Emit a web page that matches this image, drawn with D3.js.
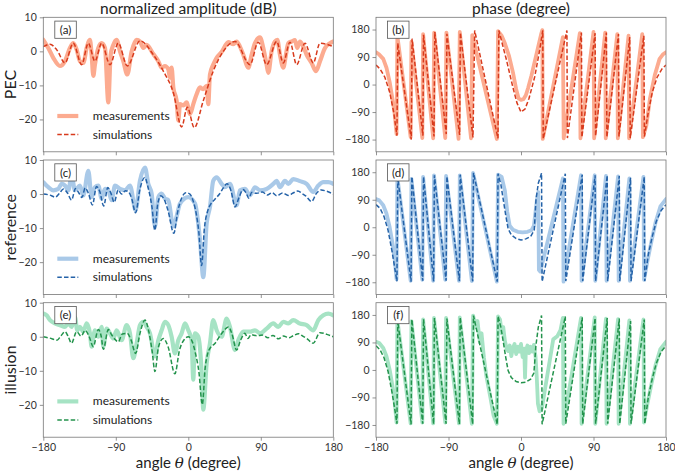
<!DOCTYPE html>
<html><head><meta charset="utf-8">
<script src="https://cdn.jsdelivr.net/npm/d3@7"></script>
<style>body{margin:0;background:#fff} text{font-family:Lato,"Open Sans",sans-serif}</style>
</head><body><svg id="c" width="675" height="472"></svg>
<script>
const angleTicks = [-180, -90, 0, 90, 180];
const ampTicks = [10, 0, -10, -20];
const phaseTicks = [180, 90, 0, -90, -180];
const colTitles = ["normalized amplitude (dB)", "phase (degree)"];
const rowLabels = ["PEC", "reference", "illusion"];
const panelLabels = [["(a)", "(b)"], ["(c)", "(d)"], ["(e)", "(f)"]];
const legendLabels = ["measurements", "simulations"];
const xLabelParts = ["angle ", "\u03b8", " (degree)"];

// ---- amplitude (dB) ----
const pecAmpSim = [[-180,1.4],[-171.7,2.1],[-163.4,0.5],[-153.1,-3.4],[-142.8,2.4],[-132.4,-3.9],[-124.1,2.4],[-115.9,-2.9],[-107.6,2.4],[-97.2,-3.9],[-86.9,2.4],[-75.7,-4.3],[-60,3.1],[-43.4,-1.0],[-31,-5.8],[-18.6,-12.1],[-8.3,-22.2],[-1.2,-16.4],[7.4,-22.4],[18.6,-14.5],[31,-5.8],[43.4,0],[57.9,2.9],[76.6,-3.9],[86.9,2.7],[97.2,-3.9],[109.7,2.9],[117.9,-3.4],[126.2,2.7],[134.5,-3.9],[144.8,2.4],[155.1,-3.4],[163.5,2.4],[180,1.4]];
const pecAmpMeas = [[-180,3.4],[-173.8,1.0],[-167.6,-1.9],[-159.3,-4.3],[-153.1,-2.9],[-146.9,1.0],[-142.8,2.4],[-138.6,0.5],[-134.5,-2.9],[-130.3,-3.4],[-126.2,1.0],[-122.1,3.4],[-120,-1.0],[-117.9,-7.2],[-115.9,-3.9],[-111.7,1.0],[-107.6,2.4],[-103.4,1.0],[-99.3,-15.0],[-96.4,-1.0],[-93.1,1.9],[-89,3.4],[-84.8,0],[-80.7,-2.9],[-75.7,-6.8],[-70.3,0],[-64.1,3.4],[-60,2.9],[-55.9,1.0],[-51.7,1.9],[-43.4,-0.8],[-37.2,-2.9],[-33.1,-4.8],[-29,-4.3],[-24.8,-5.3],[-22.8,-7.7],[-20.7,-4.8],[-18.6,-10.6],[-14.5,-14.5],[-12.4,-20.3],[-10.3,-15.5],[-6.2,-15.9],[-2.1,-15.0],[2.1,-18.4],[6.2,-15.5],[10.3,-12.6],[14.5,-10.6],[18.6,-11.1],[22.8,-10.1],[24.8,-15.5],[26.9,-6.8],[31,-3.9],[35.2,-1.9],[41.4,-0.2],[49.7,2.7],[55.9,2.1],[60,2.9],[64.1,1.4],[68.3,-1.0],[74.5,-4.8],[78.6,-1.0],[82.8,2.4],[89,4.1],[93.1,1.0],[97.2,-3.9],[99.3,-6.3],[103.4,0],[107.6,2.9],[110.5,3.4],[113.8,-1.0],[117.9,-4.8],[121.2,-1.0],[124.1,2.4],[128.3,2.9],[132.4,3.3],[135.3,1.0],[138.6,2.9],[142.8,1.4],[146.9,-1.0],[153.1,-3.4],[158.5,-5.8],[163.5,-2.9],[169.7,1.0],[175.9,2.4],[180,2.9]];
const refAmpSim = [[-180,0],[-172,-0.3],[-165,-0.9],[-160,0.2],[-155,1.5],[-150,0.3],[-145,-1.8],[-140,1.6],[-136,0.4],[-132,-1.0],[-128,1.8],[-124,0.2],[-119,-3.2],[-114,2.2],[-110,0.8],[-105,-3.5],[-100,1.9],[-96,0.2],[-92,-2.4],[-87,1.2],[-83,0.0],[-78,1.0],[-74,0.6],[-70,-1.5],[-65.5,-5.5],[-60,1.5],[-54,4.9],[-50,2.0],[-45,-4],[-41.5,-10.7],[-38,-3],[-34,-0.5],[-30,-1.5],[-25,-5],[-18,-11.5],[-13,-5],[-8,-1],[-3,0.4],[2,0],[6,-2],[10,-6],[13,-11],[16.5,-21],[20,-10],[24,-5],[27,-3.3],[33,-1.5],[39,0.1],[44,2],[48,3],[53,1],[58,-3.8],[63,-1],[68,1.3],[72,0.2],[75,-1.2],[79,0.5],[85,0.2],[92,0.6],[98,-0.3],[104,0.4],[110,-0.5],[117,0.3],[124,-0.4],[130,0.3],[136,0.9],[141,0.2],[146,-0.6],[153,-2.2],[159,0.2],[165,1.2],[172,0.8],[180,0]];
const refAmpMeas = [[-180,3.5],[-173.8,2.0],[-167.6,1.1],[-161.4,1.5],[-157.2,3.0],[-153.1,2.5],[-149,1.1],[-144.8,5.4],[-140.7,1.1],[-134.5,2.5],[-130.3,-0.4],[-124.1,6.8],[-120,-0.9],[-115.9,2.0],[-111.7,2.5],[-107.6,-1.3],[-103.4,1.5],[-99.3,1.1],[-95.2,-1.8],[-91,2.5],[-84.8,1.5],[-78.6,1.1],[-72.4,2.5],[-65.4,-4.7],[-60,3.9],[-53.8,7.8],[-49.7,3.0],[-45.5,0.1],[-41.4,-9.5],[-37.2,-0.9],[-33.1,0.1],[-29,-1.3],[-24.8,-1.8],[-18.6,-9.5],[-14.5,-6.6],[-10.3,-2.8],[0,-0.9],[8.3,-2.8],[14.5,-13.4],[18.6,-24.4],[22.8,-8.6],[26.9,-3.8],[31,3.9],[35.2,4.9],[41.4,3.0],[45.5,2.0],[51.7,3.0],[60,-3.3],[64.1,1.1],[70.3,1.5],[76.6,-0.4],[82.8,2.0],[89,1.1],[97.2,1.5],[105.5,3.0],[109.7,3.9],[113.8,2.0],[120,3.9],[124.1,3.0],[130.3,4.4],[138.6,3.8],[146.9,3.0],[155.1,0.6],[161.4,2.5],[167.6,3.5],[173.8,3.5],[180,3.0]];
const illAmpSim = [[-180,0],[-172,-0.4],[-163,-1.0],[-158,0.3],[-153,1.5],[-149,0.0],[-145,-1.9],[-138.6,1.5],[-133,0.2],[-128,1.9],[-123,0.0],[-118,-2.9],[-111.7,2.1],[-108,0.0],[-105.5,-3.7],[-99.3,2.1],[-95,0.5],[-90,-1.0],[-87,-1.5],[-82,0.8],[-76,1.0],[-71,-1.0],[-65.4,-4.9],[-60,1.0],[-53.8,4.9],[-49,1.5],[-45,-4],[-41.4,-10.2],[-37,-3],[-31,-0.5],[-25,-3],[-16.6,-10.9],[-11,-4],[-5,-0.8],[0,0],[5,-1.5],[9,-5],[13,-10],[17.4,-19.9],[21,-9],[24,-5],[26.9,-3.4],[33,-2],[40,0.5],[45,2],[49.7,2.9],[54,1],[60,-3.9],[65,-1],[70.3,1.0],[74,-0.5],[78,0.6],[85,0.3],[92,0.5],[99,-0.3],[105,0.4],[112,-0.6],[118,0.2],[125,-0.3],[131,0.4],[137,0.9],[142,0.2],[147,-0.5],[155,-1.9],[163.5,1.2],[172,0.7],[180,0]];
const illAmpMeas = [[-180,6.8],[-175.9,6.3],[-171.7,4.9],[-165.5,3.9],[-159.3,3.4],[-153.1,2.9],[-149,3.9],[-144.8,2.9],[-140.7,5.8],[-137.8,1.9],[-134.5,2.9],[-130.3,1.5],[-126.2,3.9],[-122.1,1.0],[-120,-2.9],[-115.9,1.9],[-111.7,0],[-107.6,2.9],[-105.5,-2.9],[-101.4,2.4],[-97.2,1.0],[-93.1,-0.5],[-89,1.9],[-82.8,-1.0],[-76.6,3.4],[-72.4,1.0],[-68.3,-6.3],[-64.1,-1.9],[-60,3.4],[-55.9,4.4],[-51.7,2.9],[-47.6,1.0],[-41.4,-5.8],[-37.2,-1.0],[-33.1,1.9],[-29,4.4],[-24.8,3.4],[-20.7,0],[-16.6,-4.9],[-12.4,-1.0],[-8.3,1.0],[-4.1,3.9],[0,1.9],[4.1,-1.0],[6.2,-12.6],[8.3,1.0],[12.4,0],[16.6,-10.7],[18.6,-21.4],[22.8,-7.8],[26.9,-1.9],[31,4.9],[35.2,1.9],[41.4,0],[47.6,5.3],[51.7,2.9],[57.9,-3.9],[62.1,-1.0],[68.3,1.5],[76.6,1.5],[82.8,1.9],[89,1.0],[97.2,2.4],[105.5,3.9],[111.7,2.9],[117.9,4.4],[124.1,3.9],[130.3,4.9],[138.6,3.9],[146.9,3.4],[155.1,1.9],[161.4,4.9],[167.6,6.3],[173.8,6.8],[180,6.3]];

// ---- phase (degree) ----
const pecPhaseSim = [[-180,64],[-175,51],[-169,24],[-163,-25],[-158,-91],[-154,-167],[-153,135],[-136.2,-180],[-135.2,150],[-121.8,-167],[-121,163],[-108,-170],[-107,172],[-92.8,-162],[-92,166],[-76.2,-165],[-75.3,170],[-59.6,-173],[-57.5,177],[-28.6,-176],[-27.5,177],[-18,80],[-10,-10],[-5,-60],[0,-90],[5,-80],[10,-45],[17,25],[23,110],[27,177],[27.6,-177],[57,177],[57.6,-175],[75,170],[75.6,-172],[92,168],[92.6,-168],[106,170],[106.6,-172],[121,165],[121.6,-170],[135,155],[135.6,-175],[152.5,160],[153.2,-170],[158,-91],[163,-25],[169,24],[175,51],[180,64]];
const pecPhaseMeas = [[-180,106],[-176,98],[-171,84],[-167,55],[-163,8],[-160,-40],[-157,-91],[-154.5,-162],[-153.5,160],[-137,-172],[-136,140],[-122.5,-175],[-121.5,165],[-109,-176],[-107.8,170],[-94,-175],[-92.6,170],[-77.5,-178],[-76,172],[-62,-176],[-60.5,162],[-30,-178],[-28.5,175],[-24,160],[-20,135],[-15,95],[-10,40],[-6,-15],[-3,-45],[0,-50],[3,-48],[6,-35],[9,-10],[13,30],[17,75],[21,120],[25,165],[26.5,178],[27,-178],[52,155],[53,-176],[73,168],[73.8,-176],[90,172],[90.8,-176],[104.5,170],[105.2,-176],[119.5,165],[120.2,-176],[133.5,160],[134.2,-176],[150.5,165],[151.3,-172],[155.6,-135],[160,-47],[166,30],[172,84],[176,98],[180,106]];
const refPhaseSim = [[-180,74],[-175,62],[-170,35],[-165,-10],[-160,-80],[-156,-145],[-154,-177],[-153,162],[-136.5,-178],[-135.5,165],[-122,-175],[-121,165],[-108.5,-177],[-107.5,170],[-93,-175],[-92,166],[-76.5,-176],[-75.5,172],[-60,-177],[-59,178],[-29.5,-178],[-28.5,175],[-25,140],[-22,90],[-19,40],[-16,-5],[-12,-25],[-6,-37],[0,-42],[6,-38],[12,-30],[16.5,-9],[18.6,90],[21.5,144],[25.5,177],[26.2,-178],[55,175],[55.6,-176],[76,172],[76.6,-176],[92,170],[92.6,-176],[107,170],[107.6,-176],[122,168],[122.6,-176],[136,162],[136.6,-176],[153,165],[153.6,-176],[158,-90],[163,-30],[168,20],[174,55],[180,74]];
const refPhaseMeas = [[-180,92],[-176,88],[-171,72],[-167,45],[-163,0],[-160,-45],[-157,-100],[-154.5,-170],[-153.5,165],[-137,-175],[-136,158],[-122.5,-172],[-121.5,165],[-109,-175],[-108,170],[-94,-172],[-93,168],[-77,-175],[-76,170],[-61,-176],[-59.5,178],[-30,-178],[-28.5,172],[-24,165],[-20,120],[-17,50],[-14,5],[-10,-8],[-4,-15],[2,-17],[8,-15],[13,-10],[16,5],[18,50],[20,95],[21.5,115],[22.2,-140],[24,-145],[52,160],[52.8,-178],[74.5,170],[75.2,-175],[91.5,170],[92.2,-175],[105.5,168],[106.2,-175],[120.5,166],[121.2,-175],[134.5,160],[135.2,-175],[152,165],[152.7,-172],[157,-110],[162,-45],[167,15],[173,68],[180,92]];
const illPhaseSim = [[-180,79],[-175,66],[-170,40],[-165,-5],[-160,-75],[-156,-140],[-154,-176],[-153,160],[-136.5,-178],[-135.5,165],[-122,-176],[-121,166],[-108.5,-177],[-107.5,170],[-93,-176],[-92,168],[-76.5,-177],[-75.5,172],[-60,-177],[-59,178],[-29.5,-178],[-28.5,176],[-25,140],[-22,92],[-19,42],[-16,-2],[-12,-25],[-6,-38],[0,-42],[6,-40],[12,-30],[16,-10],[18.5,80],[21.5,140],[25.5,178],[26.2,-178],[55,175],[55.6,-176],[76,172],[76.6,-176],[92,170],[92.6,-176],[107,170],[107.6,-176],[122,168],[122.6,-176],[136,160],[136.6,-176],[153,165],[153.6,-176],[158,-90],[163,-28],[168,22],[174,60],[180,79]];
const illPhaseMeas = [[-180,92],[-176,88],[-171,72],[-167,45],[-163,0],[-160,-45],[-157,-100],[-154.5,-172],[-153.5,165],[-137,-175],[-136,160],[-122.5,-172],[-121.5,165],[-109,-175],[-108,170],[-94,-172],[-93,170],[-77,-175],[-76,172],[-61,-176],[-59.5,178],[-56,140],[-54,160],[-51,90],[-49,120],[-46,40],[-43,-20],[-38,-90],[-34,-150],[-30,-176],[-28.5,175],[-26,165],[-24,120],[-22,140],[-20,95],[-18,72],[-16,62],[-14,80],[-12,45],[-10,72],[-8,85],[-6,52],[-4,76],[-2,60],[0,85],[2,42],[4,70],[5,-25],[6,62],[8,80],[10,55],[12,76],[14,60],[16,82],[18,45],[19.5,-20],[21,-110],[23,-135],[26,-125],[30,-60],[35,20],[40,100],[45,110],[49,130],[52,170],[52.8,-176],[74.5,170],[75.2,-176],[91.5,172],[92.2,-176],[105.5,168],[106.2,-176],[120.5,166],[121.2,-176],[134.5,162],[135.2,-176],[152,165],[152.7,-172],[157,-110],[162,-45],[167,15],[173,68],[180,92]];

const ampSeries = [[pecAmpMeas, pecAmpSim], [refAmpMeas, refAmpSim], [illAmpMeas, illAmpSim]];
const phaseSeries = [[pecPhaseMeas, pecPhaseSim], [refPhaseMeas, refPhaseSim], [illPhaseMeas, illPhaseSim]];
const measColors = ["#fcab90", "#a9c9e8", "#a6e3c4"];
const simColors = ["#d83a1c", "#2462a8", "#23934c"];

// ---- layout ----
const svg = d3.select("#c");
const colX = [43.3, 376], panelW = 290;
const rowY = [17.3, 160, 302.7], panelH = 134.5;
const fmt = d => (d < 0 ? "\u2212" + Math.abs(d) : String(d));
const frameColor = "#777";

rowLabels.forEach((lab, r) => {
  for (let c = 0; c < 2; c++) {
    const x0 = colX[c], y0 = rowY[r];
    const x = d3.scaleLinear().domain([-180, 180]).range([x0, x0 + panelW]);
    const y = d3.scaleLinear().domain(c === 0 ? [-29.5, 10] : [-220, 220]).range([y0 + panelH, y0]);
    const g = svg.append("g");
    const cid = `clip${r}${c}`;
    svg.append("clipPath").attr("id", cid).append("rect")
      .attr("x", x0).attr("y", y0).attr("width", panelW).attr("height", panelH);
    const data = c === 0 ? ampSeries[r] : phaseSeries[r];
    const curve = c === 0 ? d3.curveMonotoneX : d3.curveLinear;
    const line = d3.line().x(d => x(d[0])).y(d => y(d[1])).curve(curve);
    const lg = g.append("g").attr("clip-path", `url(#${cid})`);
    lg.append("path").datum(data[0]).attr("d", line)
      .attr("fill", "none").attr("stroke", measColors[r]).attr("stroke-width", c === 0 ? 4.2 : 3.8)
      .attr("stroke-linejoin", "round").attr("stroke-linecap", "round");
    lg.append("path").datum(data[1]).attr("d", line)
      .attr("fill", "none").attr("stroke", simColors[r]).attr("stroke-width", 1.5)
      .attr("stroke-dasharray", "4.5,2.2");

    // axes
    const xa = g.append("g").attr("transform", `translate(0,${y0 + panelH})`)
      .call(d3.axisBottom(x).tickValues(angleTicks).tickSizeInner(3.5).tickSizeOuter(0).tickPadding(2.5)
        .tickFormat(r === 2 ? fmt : () => ""));
    const ya = g.append("g").attr("transform", `translate(${x0},0)`)
      .call(d3.axisLeft(y).tickValues(c === 0 ? ampTicks : phaseTicks).tickSizeInner(3.5).tickSizeOuter(0).tickPadding(3)
        .tickFormat(fmt));
    [xa, ya].forEach(a => {
      a.select(".domain").remove();
      a.selectAll("line").attr("stroke", frameColor).attr("stroke-width", 0.8);
      a.selectAll("text").attr("fill", "#333").style("font-size", "10.5px");
    });
    g.append("rect").attr("x", x0).attr("y", y0).attr("width", panelW).attr("height", panelH)
      .attr("fill", "none").attr("stroke", frameColor).attr("stroke-width", 0.8);

    // panel label box
    g.append("rect").attr("x", x0 + 11.5).attr("y", y0 + 3.8).attr("width", 21.5).attr("height", 17.2)
      .attr("fill", "#fff").attr("stroke", "#555").attr("stroke-width", 0.8);
    g.append("text").attr("x", x0 + 22.25).attr("y", y0 + 16.5).attr("text-anchor", "middle")
      .style("font-size", "11.5px").attr("fill", "#222").text(panelLabels[r][c]);

    // legend
    if (c === 0) {
      legendLabels.forEach((t, i) => {
        const ly = y0 + 98.7 + i * 18.6;
        g.append("line").attr("x1", x0 + 14).attr("x2", x0 + 35).attr("y1", ly).attr("y2", ly)
          .attr("stroke", i === 0 ? measColors[r] : simColors[r])
          .attr("stroke-width", i === 0 ? 4.2 : 1.5)
          .attr("stroke-dasharray", i === 0 ? null : "4.5,2.2");
        g.append("text").attr("x", x0 + 49.5).attr("y", ly + 4).style("font-size", "12px")
          .attr("fill", "#222").text(t);
      });
    }
  }
  svg.append("text").attr("transform", `translate(16,${rowY[r] + panelH / 2}) rotate(-90)`)
    .attr("text-anchor", "middle").style("font-size", "16px").attr("fill", "#222").text(lab);
});

colTitles.forEach((t, c) => {
  svg.append("text").attr("x", colX[c] + panelW / 2).attr("y", 13.5).attr("text-anchor", "middle")
    .style("font-size", "15.5px").attr("fill", "#222").text(t);
  const xl = svg.append("text").attr("x", colX[c] + panelW / 2).attr("y", 468).attr("text-anchor", "middle")
    .style("font-size", "15px").attr("fill", "#222");
  xLabelParts.forEach((p, i) => {
    xl.append("tspan").style("font-style", i === 1 ? "italic" : "normal")
      .style("font-family", i === 1 ? "'DejaVu Serif',serif" : null).text(p);
  });
});
</script></body></html>
